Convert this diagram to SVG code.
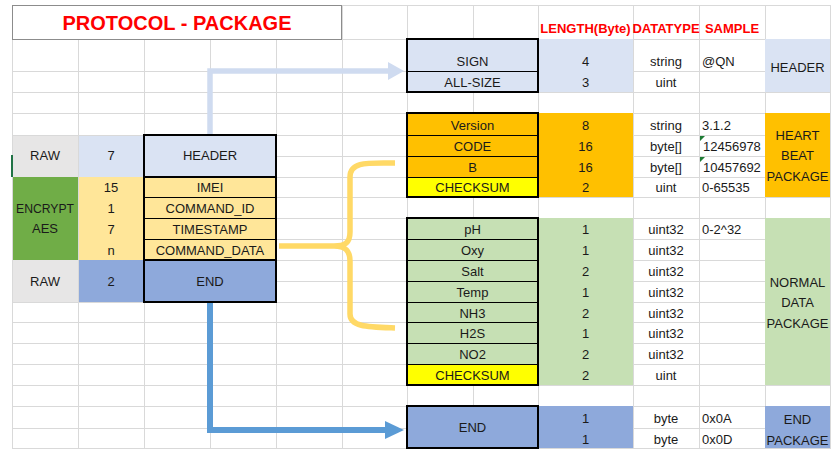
<svg xmlns="http://www.w3.org/2000/svg" width="837" height="456" viewBox="0 0 837 456">
<style>
text{font-family:"Liberation Sans",Arial,sans-serif;font-size:13px;fill:#1a1a1a}
.c{text-anchor:middle}
.l{text-anchor:start}
.red{fill:#ff0000;font-weight:bold;font-size:13px}
.title{fill:#ff0000;font-weight:bold;font-size:20px}
.grid{stroke:#d9d9d9;stroke-width:1;fill:none}
.box{fill:none;stroke:#000;stroke-width:2}
.in{stroke:#000;stroke-width:1;fill:none}
.lb{fill:#dae3f3}.or{fill:#ffc000}.ye{fill:#ffff00}.gr{fill:#c6e0b4}.bl{fill:#8ea9db}.ly{fill:#ffe699}.dg{fill:#70ad47}.gy{fill:#e7e6e6}
</style>
<rect width="837" height="456" fill="#fff"/>
<g id="grid">
<path class="grid" d="M12.5,5V448M78.5,5V448M144.5,5V448M210.5,5V448M276.5,5V448M342.5,5V448M407.5,5V448M473.5,5V448M538.5,5V448M633.5,5V448M699.5,5V448M765.5,5V448M830.5,5V448"/>
<path class="grid" d="M12,5.5H831M12,39.5H831M12,71.5H831M12,92.5H831M12,113.5H831M12,135.5H831M12,156.5H831M12,177.5H831M12,197.5H831M12,218.5H831M12,239.5H831M12,260.5H831M12,281.5H831M12,302.5H831M12,322.5H831M12,343.5H831M12,364.5H831M12,385.5H831M12,406.5H831M12,428.5H831M12,448.5H831"/>
</g>
<g id="title">
<rect x="12.5" y="5.5" width="329" height="34" fill="#fff" stroke="#8c8c8c" stroke-width="1"/>
<text class="title c" x="177" y="30" textLength="229" lengthAdjust="spacingAndGlyphs">PROTOCOL - PACKAGE</text>
</g>
<g id="column-headers">
<text class="red c" x="585.5" y="33">LENGTH(Byte)</text>
<text class="red c" x="666" y="33">DATATYPE</text>
<text class="red c" x="732" y="33">SAMPLE</text>
</g>
<g id="left-package">
<rect class="gy" x="13" y="136" width="65" height="41"/>
<rect class="lb" x="79" y="136" width="65" height="41"/>
<rect class="lb" x="144" y="135" width="132" height="42"/>
<rect class="dg" x="13" y="177" width="65" height="83"/>
<rect class="ly" x="79" y="177" width="65" height="83"/>
<rect class="ly" x="144" y="177" width="132" height="83"/>
<rect class="gy" x="13" y="260" width="65" height="42"/>
<rect class="bl" x="79" y="260" width="65" height="42"/>
<rect class="bl" x="144" y="260" width="132" height="42"/>
<line x1="12" y1="155" x2="12" y2="177" stroke="#217346" stroke-width="2"/>
<path class="in" d="M144,197.5H276M144,218.5H276M144,239.5H276"/>
<path class="box" d="M144,177H276M144,260H276"/>
<rect class="box" x="144" y="135" width="132" height="167"/>
<text class="c" x="45" y="160">RAW</text>
<text class="c" x="111" y="160">7</text>
<text class="c" x="210" y="160">HEADER</text>
<text class="c" x="45" y="213" textLength="58" lengthAdjust="spacingAndGlyphs">ENCRYPT</text>
<text class="c" x="45" y="233">AES</text>
<text class="c" x="111" y="192">15</text>
<text class="c" x="111" y="213">1</text>
<text class="c" x="111" y="234">7</text>
<text class="c" x="111" y="255">n</text>
<text class="c" x="210" y="192">IMEI</text>
<text class="c" x="210" y="213">COMMAND_ID</text>
<text class="c" x="210" y="234">TIMESTAMP</text>
<text class="c" x="210" y="255">COMMAND_DATA</text>
<text class="c" x="45" y="286">RAW</text>
<text class="c" x="111" y="286">2</text>
<text class="c" x="210" y="286">END</text>
</g>
<g id="header-package">
<rect class="lb" x="407" y="39" width="131" height="53"/>
<rect class="lb" x="538" y="39" width="95" height="53"/>
<path class="in" d="M407,71.5H538"/>
<rect class="box" x="407" y="39" width="131" height="53"/>
<text class="c" x="472.5" y="66">SIGN</text>
<text class="c" x="472.5" y="87">ALL-SIZE</text>
<text class="c" x="585.5" y="66">4</text>
<text class="c" x="585.5" y="87">3</text>
<text class="c" x="666" y="66">string</text>
<text class="c" x="666" y="87">uint</text>
<text class="l" x="702" y="66">@QN</text>
<rect class="lb" x="765" y="39" width="65" height="53"/>
<text class="c" x="797.5" y="72">HEADER</text>
</g>
<g id="heartbeat-package">
<rect class="or" x="407" y="113" width="131" height="64"/>
<rect class="ye" x="407" y="177" width="131" height="20"/>
<rect class="or" x="538" y="113" width="95" height="84"/>
<path class="in" d="M407,135.5H538M407,156.5H538M407,177.5H538"/>
<rect class="box" x="407" y="113" width="131" height="84"/>
<text class="c" x="472.5" y="130">Version</text>
<text class="c" x="472.5" y="151">CODE</text>
<text class="c" x="472.5" y="172">B</text>
<text class="c" x="472.5" y="192">CHECKSUM</text>
<text class="c" x="585.5" y="130">8</text>
<text class="c" x="585.5" y="151">16</text>
<text class="c" x="585.5" y="172">16</text>
<text class="c" x="585.5" y="192">2</text>
<text class="c" x="666" y="130">string</text>
<text class="c" x="666" y="151">byte[]</text>
<text class="c" x="666" y="172">byte[]</text>
<text class="c" x="666" y="192">uint</text>
<text class="l" x="702" y="130">3.1.2</text>
<text class="l" x="703" y="151" font-size="13.8">12456978</text>
<text class="l" x="703" y="172" font-size="13.8">10457692</text>
<text class="l" x="702" y="192">0-65535</text>
<path d="M700,136H705L700,141Z M700,157H705L700,162Z" fill="#1e7b34"/>
<rect class="or" x="765" y="113" width="65" height="84"/>
<text class="c" x="797.5" y="140">HEART</text>
<text class="c" x="797.5" y="160">BEAT</text>
<text class="c" x="797.5" y="181">PACKAGE</text>
</g>
<g id="normal-data-package">
<rect class="gr" x="407" y="218" width="131" height="146"/>
<rect class="ye" x="407" y="364" width="131" height="21"/>
<rect class="gr" x="538" y="218" width="95" height="167"/>
<path class="in" d="M407,239.5H538M407,260.5H538M407,281.5H538M407,302.5H538M407,322.5H538M407,343.5H538M407,364.5H538"/>
<rect class="box" x="407" y="218" width="131" height="167"/>
<text class="c" x="472.5" y="234">pH</text>
<text class="c" x="472.5" y="255">Oxy</text>
<text class="c" x="472.5" y="276">Salt</text>
<text class="c" x="472.5" y="297">Temp</text>
<text class="c" x="472.5" y="318">NH3</text>
<text class="c" x="472.5" y="338">H2S</text>
<text class="c" x="472.5" y="359">NO2</text>
<text class="c" x="472.5" y="380">CHECKSUM</text>
<text class="c" x="585.5" y="234">1</text>
<text class="c" x="585.5" y="255">1</text>
<text class="c" x="585.5" y="276">2</text>
<text class="c" x="585.5" y="297">1</text>
<text class="c" x="585.5" y="318">2</text>
<text class="c" x="585.5" y="338">1</text>
<text class="c" x="585.5" y="359">2</text>
<text class="c" x="585.5" y="380">2</text>
<text class="c" x="666" y="234">uint32</text>
<text class="c" x="666" y="255">uint32</text>
<text class="c" x="666" y="276">uint32</text>
<text class="c" x="666" y="297">uint32</text>
<text class="c" x="666" y="318">uint32</text>
<text class="c" x="666" y="338">uint32</text>
<text class="c" x="666" y="359">uint32</text>
<text class="c" x="666" y="380">uint</text>
<text class="l" x="702" y="234">0-2^32</text>
<rect class="gr" x="765" y="218" width="65" height="167"/>
<text class="c" x="797.5" y="287">NORMAL</text>
<text class="c" x="797.5" y="307">DATA</text>
<text class="c" x="797.5" y="328">PACKAGE</text>
</g>
<g id="end-package">
<rect class="bl" x="407" y="406" width="131" height="42"/>
<rect class="bl" x="538" y="406" width="95" height="42"/>
<rect class="box" x="407" y="406" width="131" height="42"/>
<text class="c" x="472.5" y="432">END</text>
<text class="c" x="585.5" y="423">1</text>
<text class="c" x="585.5" y="444">1</text>
<text class="c" x="666" y="423">byte</text>
<text class="c" x="666" y="444">byte</text>
<text class="l" x="702" y="423">0x0A</text>
<text class="l" x="702" y="444">0x0D</text>
<rect class="bl" x="765" y="406" width="65" height="42"/>
<text class="c" x="797.5" y="424">END</text>
<text class="c" x="797.5" y="445">PACKAGE</text>
</g>
<g id="connectors">
<path d="M210,134V71H389" fill="none" stroke="#cfdbf0" stroke-width="5.5"/>
<polygon points="388,62 404,71 388,80" fill="#cfdbf0"/>
<path d="M210,303V430H387" fill="none" stroke="#5b9bd5" stroke-width="6"/>
<polygon points="385,421 404,430 385,439" fill="#5b9bd5"/>
<path d="M395,163C368,163 350,161 350,177V232C350,243 345,246 334,246H279M334,246C345,246 350,250 350,261V314C350,327 368,327 395,328" fill="none" stroke="#ffd966" stroke-width="5.5" stroke-linecap="butt" stroke-linejoin="round"/>
</g>
</svg>
